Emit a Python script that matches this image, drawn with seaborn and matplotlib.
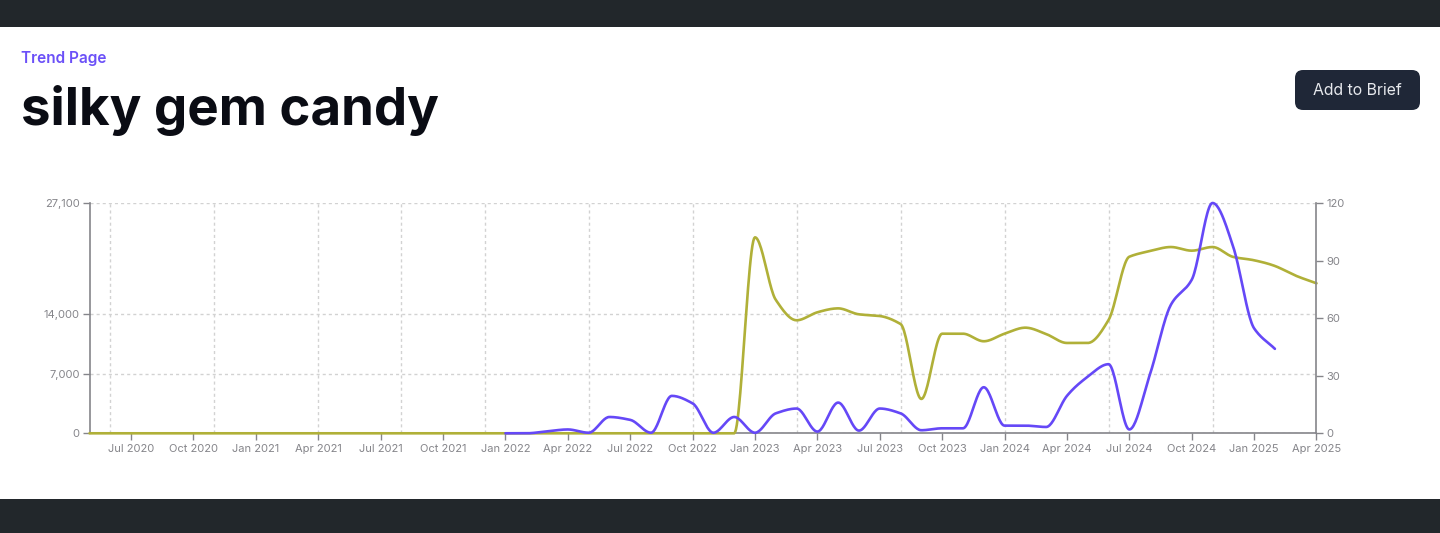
import numpy as np
import pandas as pd
import matplotlib
matplotlib.use("Agg")
import matplotlib.pyplot as plt
from matplotlib.patches import FancyBboxPatch, Rectangle
import seaborn as sns

# monthly axis, May 2020 .. Apr 2025
months = pd.date_range("2020-05-01", "2025-04-01", freq="MS")
month_idx = np.arange(len(months))

# left axis series, zero until the Dec 2022 rise
volume_vals = [0] * 32 + [
    23060, 15700, 13300, 14240, 14700, 14000, 13800, 12860, 4040, 11720,
    11720, 10830, 11720, 12430, 11680, 10630, 10630, 13330, 20780, 21450,
    21920, 21490, 21920, 20750, 20360, 19690, 18550, 17650,
]

# right axis series, starts Jan 2022, ends Feb 2025
trend_start = 20
trend_vals = [
    0, 0, 1, 2, 0.3, 8.5, 7, 0.3, 19.5, 15.6,
    0.3, 8.5, 0.3, 10.4, 12.9, 0.9, 16, 1.4, 12.9, 10.4,
    1.6, 2.6, 2.6, 24, 4, 4, 3.3, 19.5, 29.5, 36,
    2, 31, 67, 80, 120, 97, 54.7, 44,
]

left_ticks = [0, 7000, 14000, 27100]
right_ticks = [0, 30, 60, 90, 120]
label_idx = np.arange(2, 60, 3)
grid_idx = [1, 6, 11, 15, 19, 24, 29, 34, 39, 44, 49, 54]

GOLD = "#b0b038"
PURPLE = "#6548f7"
GREY = "#85858a"
DARK = "#22272b"
GRID_DASH = (0, (2.2, 2.2))

sns.set_theme(style="white")
plt.rcParams["font.family"] = ["Inter", "DejaVu Sans"]

W, H = 1440, 533


def monotone_curve(x, y, per_step=24):
    # same idea as d3 curveMonotoneX, only to draw the monthly values smoothly
    x = np.asarray(x, dtype=float)
    y = np.asarray(y, dtype=float)
    d = np.diff(y) / np.diff(x)
    m = np.zeros(len(y))
    m[0], m[-1] = d[0], d[-1]
    for i in range(1, len(y) - 1):
        if d[i - 1] * d[i] > 0:
            m[i] = np.sign(d[i]) * min(1.5 * abs(d[i - 1]), 1.5 * abs(d[i]), 0.5 * abs(d[i - 1] + d[i]))
    xs, ys = [], []
    for i in range(len(y) - 1):
        t = np.linspace(0, 1, per_step, endpoint=False)
        h = x[i + 1] - x[i]
        ys.append((2*t**3 - 3*t**2 + 1) * y[i] + (t**3 - 2*t**2 + t) * h * m[i]
                  + (-2*t**3 + 3*t**2) * y[i + 1] + (t**3 - t**2) * h * m[i + 1])
        xs.append(x[i] + t * h)
    return np.append(np.concatenate(xs), x[-1]), np.append(np.concatenate(ys), y[-1])


fig = plt.figure(figsize=(W / 100, H / 100), dpi=100, facecolor="white")

# top and bottom bars of the page
fig.add_artist(Rectangle((0, 1 - 27 / H), 1, 27 / H, transform=fig.transFigure, color=DARK, lw=0))
fig.add_artist(Rectangle((0, 0), 1, 34 / H, transform=fig.transFigure, color=DARK, lw=0))

# header
fig.text(21 / W, 1 - 58.5 / H, "Trend Page", color="#6b50f8", fontsize=11.1, fontweight="semibold", va="center")
fig.text(21 / W, 1 - 110 / H, "silky gem candy", color="#0a0c14", fontsize=38, fontweight="bold", va="center")

# button
btn = FancyBboxPatch((1295 + 8, H - 110 + 8), 125 - 16, 40 - 16, boxstyle="round,pad=8,rounding_size=8",
                     transform=None, fc="#1f2737", ec="none")
fig.add_artist(btn)
fig.text(1357.5 / W, 1 - 90.5 / H, "Add to Brief", color="#e6e8ec", fontsize=11.4, ha="center", va="center")

# chart
ax = fig.add_axes([89.5 / W, 1 - 433.3 / H, 1227 / W, 230.3 / H])
ax2 = ax.twinx()

gx, gy = monotone_curve(month_idx, volume_vals)
sns.lineplot(x=gx, y=gy, ax=ax, color=GOLD, linewidth=1.9, clip_on=False, zorder=5)

tx, ty = monotone_curve(month_idx[trend_start:trend_start + len(trend_vals)], trend_vals)
sns.lineplot(x=tx, y=np.clip(ty, 0, None), ax=ax2, color=PURPLE, linewidth=1.9, clip_on=False, zorder=5)

ax.set_xlim(0, 59)
ax.set_ylim(0, 27100)
ax2.set_ylim(0, 120)

ax.xaxis.remove_overlapping_locs = False
ax.set_xticks(label_idx, [months[i].strftime("%b %Y") for i in label_idx])
ax.set_xticks(grid_idx, minor=True)
ax.set_yticks(left_ticks, [f"{v:,}" for v in left_ticks])
ax2.set_yticks(right_ticks, [str(v) for v in right_ticks])

ax.grid(True, axis="y", which="major", color="#d2d2d2", linestyle=GRID_DASH, linewidth=1)
ax.grid(True, axis="x", which="minor", color="#d2d2d2", linestyle=GRID_DASH, linewidth=1)
ax.grid(False, axis="x", which="major")
ax2.grid(False)
ax.set_axisbelow(True)

ax.tick_params(axis="x", which="major", length=5, width=1, color=GREY, labelcolor=GREY, labelsize=8, pad=3, bottom=True)
ax.tick_params(axis="x", which="minor", length=0, bottom=False)
ax.tick_params(axis="y", length=5, width=1, color=GREY, labelcolor=GREY, labelsize=8, pad=2, left=True)
ax2.tick_params(axis="y", length=5, width=1, color=GREY, labelcolor=GREY, labelsize=8, pad=2, right=True)

for a in (ax, ax2):
    a.set_xlabel("")
    a.set_ylabel("")
    a.spines["top"].set_visible(False)

# ax2 sits on top of ax, so only its right spine stays or the gold baseline gets covered
ax2.spines["bottom"].set_visible(False)
ax2.spines["left"].set_visible(False)
ax.spines["right"].set_visible(False)
for s in (ax.spines["left"], ax.spines["bottom"], ax2.spines["right"]):
    s.set_color(GREY)
    s.set_linewidth(1.2)

fig.savefig("out.png", dpi=100)
